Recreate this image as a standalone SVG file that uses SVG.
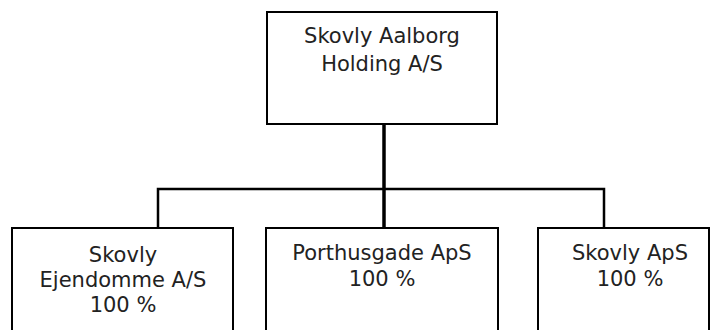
<svg xmlns="http://www.w3.org/2000/svg" width="710" height="330" viewBox="0 0 710 330">
<style>
.box{fill:#fff;stroke:#000;stroke-width:2}
.t{font-family:"DejaVu Sans",Verdana,sans-serif;font-size:21px;fill:#222;text-anchor:middle}
.c{fill:none;stroke:#000;stroke-linecap:square}
</style>
<rect width="710" height="330" fill="#fff"/>
<g id="connectors">
<line class="c" x1="384" y1="124" x2="384" y2="227" stroke-width="3.5"/>
<polyline class="c" points="158,227 158,189 604,189 604,227" stroke-width="2.5"/>
</g>
<g id="holding">
<rect class="box" x="267" y="12" width="230" height="112"/>
<text class="t" x="382" y="43">Skovly Aalborg</text>
<text class="t" x="382" y="71">Holding A/S</text>
</g>
<g id="ejendomme">
<rect class="box" x="12" y="228" width="221" height="120"/>
<text class="t" x="123" y="262">Skovly</text>
<text class="t" x="123" y="287">Ejendomme A/S</text>
<text class="t" x="123" y="312">100 %</text>
</g>
<g id="porthusgade">
<rect class="box" x="266" y="228" width="232" height="120"/>
<text class="t" x="382" y="260">Porthusgade ApS</text>
<text class="t" x="382" y="286">100 %</text>
</g>
<g id="skovlyaps">
<rect class="box" x="538" y="228" width="171" height="120"/>
<text class="t" x="630" y="260">Skovly ApS</text>
<text class="t" x="630" y="286">100 %</text>
</g>
</svg>
